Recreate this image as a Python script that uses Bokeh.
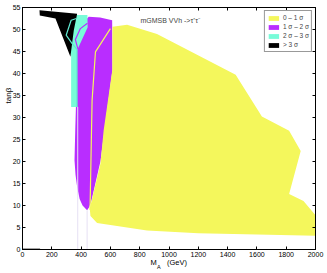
import numpy as np
from bokeh.plotting import figure
from bokeh.models import Range1d, LinearAxis, Label, Legend, LegendItem, FixedTicker
from bokeh.embed import file_html
from bokeh.resources import INLINE

# ---- data ----
x_ticks = [0, 200, 400, 600, 800, 1000, 1200, 1400, 1600, 1800, 2000]
y_ticks = [0, 5, 10, 15, 20, 25, 30, 35, 40, 45, 50, 55]

# 0 - 1 sigma region
yellow_x = [459, 464, 509, 850, 1200, 2000, 2000, 1918, 1820, 1899, 1820, 1634, 1455, 918, 714, 614, 613, 554, 532]
yellow_y = [9.3, 7.6, 6.0, 4.3, 3.7, 3.1, 7.8, 11.0, 12.6, 22.4, 27.0, 30.2, 39.7, 49.0, 51.1, 50.6, 40.8, 27.1, 19.5]
# 1 - 2 sigma region
purple_x = [452, 530, 612, 614, 532, 470, 455, 441, 410, 390, 373, 362, 355, 360, 366, 372, 400]
purple_y = [52.9, 52.7, 52.1, 40.8, 20.0, 11.0, 9.6, 8.9, 10.0, 11.5, 14.2, 17.0, 20.3, 27.0, 34.0, 45.0, 51.0]
# 2 - 3 sigma region
cyan_x = [300, 443, 445, 373, 377, 332, 332, 315]
cyan_y = [53.3, 53.3, 50.5, 45.3, 32.4, 32.4, 44.0, 48.0]
# > 3 sigma region
black_x = [116, 373, 350, 327, 225, 118]
black_y = [54.4, 53.6, 49.8, 43.8, 52.5, 53.2]

# contour lines
yline_x = [600, 498, 475, 461]
yline_y = [50.2, 44.9, 33.9, 9.0]
pline_x = [443, 395, 361, 378, 378]
pline_y = [51.4, 50.2, 47.7, 45.6, 32.5]
cline_x = [368, 332, 298, 339, 372, 372]
cline_y = [52.5, 52.1, 48.7, 46.8, 45.5, 32.4]
faint1_x = [377, 377]
faint1_y = [0, 32.4]
faint2_x = [441, 441]
faint2_y = [0, 8.9]
gray_x = [0, 120]
gray_y = [0, 0]

legend_labels = ["0 \u2013 1 \u03c3", "1 \u03c3 \u2013 2 \u03c3", "2 \u03c3 \u2013 3 \u03c3", "> 3 \u03c3"]
colors = ["#f4f75c", "#b92dff", "#78fcd8", "#000000"]

title_text = "mGMSB  VVh ->\u03c4\u207a\u03c4\u207b"
ylabel_text = "tan\u03b2"
xlabel_main = "M"
xlabel_sub = "A"
xlabel_unit = "(GeV)"
# label anchor positions (in data units along the axis)
ylabel_pos = 35
xlabel_main_pos = 895
xlabel_sub_pos = 931
xlabel_unit_pos = 1054

FONT = "Liberation Sans"

p = figure(width=327, height=273, x_range=Range1d(0, 2000), y_range=Range1d(0, 55),
           output_backend="svg", toolbar_location=None,
           min_border_left=22, min_border_right=12, min_border_top=7, min_border_bottom=24)
p.xgrid.visible = False
p.ygrid.visible = False
p.outline_line_color = "black"
p.outline_line_width = 1
p.background_fill_color = "white"
p.border_fill_color = "white"

r_purple = p.patch(purple_x, purple_y, fill_color=colors[1], line_color=None)
r_cyan = p.patch(cyan_x, cyan_y, fill_color=colors[2], line_color=None)
r_black = p.patch(black_x, black_y, fill_color=colors[3], line_color=None)
r_yellow = p.patch(yellow_x, yellow_y, fill_color=colors[0], line_color=None)

p.line(faint1_x, faint1_y, line_color="#e6e0f4", line_width=1)
p.line(faint2_x, faint2_y, line_color="#e6e0f4", line_width=1)
p.line(yline_x, yline_y, line_color="#f4f75c", line_width=1.2)
p.line(pline_x, pline_y, line_color="#b92dff", line_width=1.2)
p.line(cline_x, cline_y, line_color="#5fe8d0", line_width=1.2)
p.line(gray_x, gray_y, line_color="#888888", line_width=2.5)

for ax, ticks in ((p.xaxis[0], x_ticks), (p.yaxis[0], y_ticks)):
    ax.ticker = FixedTicker(ticks=ticks)
    ax.major_tick_in = 3
    ax.major_tick_out = 0
    ax.minor_tick_line_color = None
    ax.major_label_text_font = FONT
    ax.major_label_text_font_size = "7px"
    ax.major_label_text_color = "black"
    ax.axis_line_color = "black"
    ax.major_tick_line_color = "black"
p.xaxis.major_label_standoff = 2
p.yaxis.major_label_standoff = 2

top = LinearAxis(ticker=FixedTicker(ticks=x_ticks), major_label_text_font_size="1px",
                 major_label_text_color=None,
                 major_tick_in=3, major_tick_out=0, minor_tick_line_color=None,
                 major_label_standoff=0, axis_line_color="black")
right = LinearAxis(ticker=FixedTicker(ticks=y_ticks), major_label_text_font_size="1px",
                   major_label_text_color=None,
                   major_tick_in=3, major_tick_out=0, minor_tick_line_color=None,
                   major_label_standoff=0, axis_line_color="black")
p.add_layout(top, "above")
p.add_layout(right, "right")


def text_axis(ticks, overrides, size, standoff, orientation="horizontal"):
    return LinearAxis(ticker=FixedTicker(ticks=ticks), major_label_overrides=overrides,
                      major_label_text_font=FONT, major_label_text_font_size=size,
                      major_label_text_color="black", major_label_standoff=standoff,
                      major_label_orientation=orientation,
                      axis_line_color=None, major_tick_line_color=None,
                      minor_tick_line_color=None, major_tick_in=0, major_tick_out=0)


# x axis title "M_A (GeV)" built from axis tick labels so that it is real text
p.add_layout(text_axis([xlabel_main_pos, xlabel_unit_pos],
                       {xlabel_main_pos: xlabel_main, xlabel_unit_pos: xlabel_unit},
                       "7.5px", -2), "below")
p.add_layout(text_axis([xlabel_sub_pos], {xlabel_sub_pos: xlabel_sub}, "5.5px", -6), "below")
# y axis title
p.add_layout(text_axis([ylabel_pos], {ylabel_pos: ylabel_text}, "8px", -3, "vertical"), "left")

p.add_layout(Label(x=805, y=52.1, text=title_text, text_align="left",
                   text_baseline="middle", text_font=FONT, text_font_size="7px"))

legend = Legend(items=[LegendItem(label=legend_labels[0], renderers=[r_yellow]),
                       LegendItem(label=legend_labels[1], renderers=[r_purple]),
                       LegendItem(label=legend_labels[2], renderers=[r_cyan]),
                       LegendItem(label=legend_labels[3], renderers=[r_black])],
                location="top_right", margin=3, padding=2, spacing=0,
                glyph_width=13, glyph_height=6, label_height=9, label_standoff=3,
                label_text_font=FONT, label_text_font_size="6.5px",
                border_line_color="#333333", border_line_width=0.7,
                background_fill_color="white", background_fill_alpha=1)
p.add_layout(legend)

open("out.html", "w").write(file_html(p, INLINE))
